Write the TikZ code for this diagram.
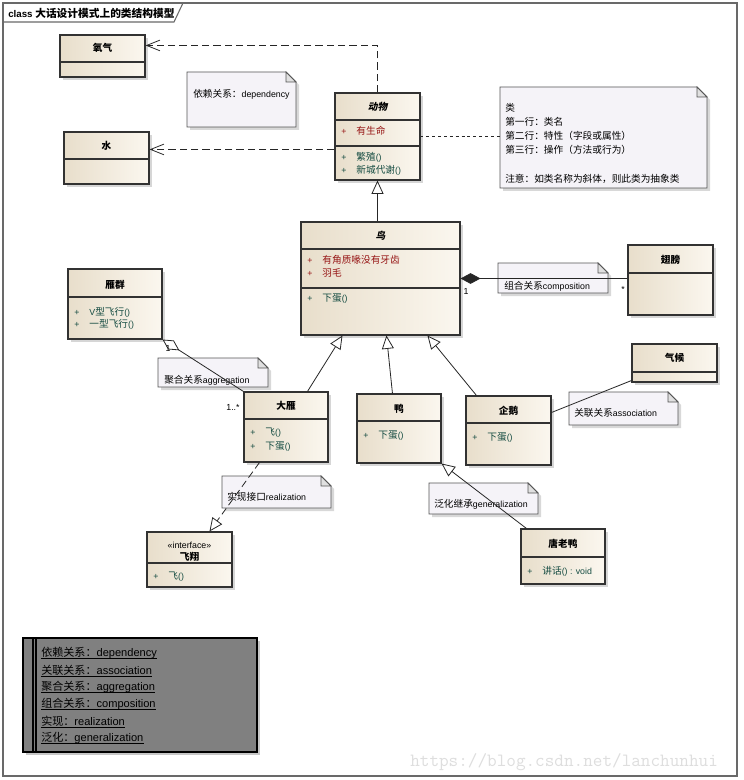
\documentclass[tikz,border=0pt]{standalone}
\usepackage{fontspec}
\setmainfont{Liberation Sans}
\newfontfamily\cjk[Scale=1.1]{Noto Sans CJK SC}
\newfontfamily\cjksl[Scale=1.1,FakeSlant=0.2]{Noto Sans CJK SC}
\newfontfamily\cjkl{Noto Sans CJK SC}
\usetikzlibrary{arrows.meta,shadows,fit,calc}
\newdimen\pxd \pxd=0.75pt
\definecolor{clsL}{RGB}{232,222,203}
\definecolor{clsR}{RGB}{251,247,239}
\definecolor{clsBorder}{RGB}{50,50,50}
\definecolor{noteFill}{RGB}{245,243,248}
\definecolor{noteBorder}{RGB}{85,85,85}
\definecolor{attrC}{RGB}{150,20,20}
\definecolor{opC}{RGB}{20,75,65}
\definecolor{legendFill}{RGB}{128,128,128}
\definecolor{frameC}{RGB}{105,105,105}
\definecolor{wmC}{RGB}{222,222,222}
\newcommand\umlclass[5]{\node[cls, fit={(#2,#3) (#4,#5)}] (#1) {};}
\newcommand\divider[2]{\draw[divl] (#1.west |- 0,#2) -- (#1.east |- 0,#2);}
\newcommand\member[5]{\node[mem, text=#4] (#1) at (#2,#3) {+\hspace{10\pxd}#5};}
\newcommand\legendline[3]{%
  \node[lg] (#1) at (41,#2) {#3};
  \draw[black, line width=0.6pt] ($(#1.base west)+(0,2)$) -- ($(#1.base east)+(0,2)$);}
\newcommand\notebox[5]{%
  \fill[black!30,opacity=0.5] (#2+3,#3+3) -- (#4+3-10,#3+3) -- (#4+3,#3+13) -- (#4+3,#5+3) -- (#2+3,#5+3) -- cycle;
  \filldraw[notest] (#2,#3) -- (#4-10,#3) -- (#4,#3+10) -- (#4,#5) -- (#2,#5) -- cycle;
  \filldraw[notest, fill=black!12] (#4-10,#3) -- (#4-10,#3+10) -- (#4,#3+10) -- cycle;
  \node[fit={(#2,#3) (#4,#5)}, inner sep=0pt] (#1) {};}
\begin{document}
\begin{tikzpicture}[x=0.75pt,y=-0.75pt,
  every node/.style={inner sep=0pt, font=\fontsize{6.6pt}{8pt}\selectfont},
  cls/.style={draw=clsBorder, line width=0.8pt, left color=clsL, right color=clsR,
    drop shadow={shadow xshift=2pt,shadow yshift=-2pt,fill=black!35,opacity=0.45}},
  divl/.style={draw=clsBorder, line width=0.8pt},
  notest/.style={draw=noteBorder, fill=noteFill, line width=0.6pt},
  conn/.style={draw=black!85, line width=0.6pt},
  dep/.style={conn, dash pattern=on 5.5pt off 3pt, -{Straight Barb[length=10pt,width=8pt]}},
  gen/.style={conn, -{Triangle[open,fill=white,length=10pt,width=9pt]}},
  real/.style={gen, dash pattern=on 5.5pt off 3pt},
  comp/.style={conn, {Diamond[length=15pt,width=8pt]}-},
  agg/.style={conn, {Diamond[open,fill=white,length=15pt,width=8pt]}-},
  notelink/.style={conn, dash pattern=on 2.2pt off 2.2pt},
  nm/.style={font=\bfseries\fontsize{6.6pt}{8pt}\selectfont},
  mem/.style={anchor=west},
  ntext/.style={anchor=west},
  lg/.style={anchor=west, text=black, font=\fontsize{8.3pt}{10pt}\selectfont}
]
\useasboundingbox (0,0) rectangle (743,780);
\fill[white] (0,0) rectangle (743,780);
% frame
\draw[frameC, line width=0.8pt] (3,3) rectangle (737,776);
\draw[frameC, line width=0.8pt] (3,22) -- (174,22) -- (183,3);
\node[anchor=west, font=\bfseries\fontsize{7.3pt}{9pt}\selectfont] (title) at (8,13) {class {\cjk\bfseries 大话设计模式上的类结构模型}};

% notes
\notebox{depnote}{187}{72}{296}{127}
\node[ntext] (depnote-t) at (193,94) {{\cjk 依赖关系：}dependency};
\notebox{classnote}{500}{87}{707}{188}
\node[ntext] (cn1) at (505,108) {\cjk 类};
\node[ntext] (cn2) at (505,122) {\cjk 第一行：类名};
\node[ntext] (cn3) at (505,136) {\cjk 第二行：特性（字段或属性）};
\node[ntext] (cn4) at (505,150) {\cjk 第三行：操作（方法或行为）};
\node[ntext] (cn5) at (505,179) {\cjk 注意：如类名称为斜体，则此类为抽象类};
\notebox{compnote}{498}{263}{608}{293}
\node[ntext] (compnote-t) at (504,286) {{\cjk 组合关系}composition};
\notebox{aggnote}{158}{358}{268}{387}
\node[ntext] (aggnote-t) at (164,380) {{\cjk 聚合关系}aggregation};
\notebox{assocnote}{569}{392}{678}{425}
\node[ntext] (assocnote-t) at (574,413) {{\cjk 关联关系}association};
\notebox{realnote}{222}{476}{331}{508}
\node[ntext] (realnote-t) at (227,497) {{\cjk 实现接口}realization};
\notebox{gennote}{429}{483}{538}{514}
\node[ntext] (gennote-t) at (434,504) {{\cjk 泛化继承}generalization};

% classes
\umlclass{yangqi}{60}{35}{145}{77}
\divider{yangqi}{62}
\node[nm] (yangqi-n) at (102.5,48) {\cjk\bfseries 氧气};

\umlclass{shui}{64}{132}{149}{184}
\divider{shui}{159}
\node[nm] (shui-n) at (106.5,146) {\cjk\bfseries 水};

\umlclass{dongwu}{335}{93}{420}{180}
\divider{dongwu}{120}
\divider{dongwu}{146}
\node[nm] (dongwu-n) at (377.5,107) {\cjksl\bfseries 动物};
\member{dongwu-a1}{341}{131}{attrC}{{\cjk 有生命}}
\member{dongwu-o1}{341}{157}{opC}{{\cjk 繁殖}()}
\member{dongwu-o2}{341}{170}{opC}{{\cjk 新城代谢}()}

\umlclass{niao}{301}{222}{460}{335}
\divider{niao}{249}
\divider{niao}{288}
\node[nm] (niao-n) at (380.5,236) {\cjksl\bfseries 鸟};
\member{niao-a1}{307}{260}{attrC}{{\cjk 有角质喙没有牙齿}}
\member{niao-a2}{307}{273}{attrC}{{\cjk 羽毛}}
\member{niao-o1}{307}{299}{opC}{{\cjk 下蛋}()}

\umlclass{chibang}{628}{245}{713}{315}
\divider{chibang}{273}
\node[nm] (chibang-n) at (670.5,260) {\cjk\bfseries 翅膀};

\umlclass{yanqun}{68}{269}{162}{339}
\divider{yanqun}{297}
\node[nm] (yanqun-n) at (115,285) {\cjk\bfseries 雁群};
\member{yanqun-o1}{74}{312}{opC}{V{\cjk 型飞行}()}
\member{yanqun-o2}{74}{324}{opC}{{\cjk 一型飞行}()}

\umlclass{dayan}{244}{392}{328}{462}
\divider{dayan}{419}
\node[nm] (dayan-n) at (286,406) {\cjk\bfseries 大雁};
\member{dayan-o1}{250}{433}{opC}{{\cjk 飞}()}
\member{dayan-o2}{250}{447}{opC}{{\cjk 下蛋}()}

\umlclass{ya}{357}{394}{441}{463}
\divider{ya}{421}
\node[nm] (ya-n) at (399,409) {\cjk\bfseries 鸭};
\member{ya-o1}{363}{436}{opC}{{\cjk 下蛋}()}

\umlclass{qie}{466}{396}{551}{465}
\divider{qie}{423}
\node[nm] (qie-n) at (508.5,411) {\cjk\bfseries 企鹅};
\member{qie-o1}{472}{438}{opC}{{\cjk 下蛋}()}

\umlclass{qihou}{632}{344}{717}{382}
\divider{qihou}{372}
\node[nm] (qihou-n) at (674.5,358) {\cjk\bfseries 气候};

\umlclass{feixiang}{147}{532}{232}{587}
\divider{feixiang}{563}
\node (feixiang-s) at (189.5,545) {«interface»};
\node[nm] (feixiang-n) at (189.5,557) {\cjk\bfseries 飞翔};
\member{feixiang-o1}{153}{577}{opC}{{\cjk 飞}()}

\umlclass{tanglaoya}{521}{529}{605}{584}
\divider{tanglaoya}{557}
\node[nm] (tanglaoya-n) at (563,544) {\cjk\bfseries 唐老鸭};
\member{tanglaoya-o1}{527}{571}{opC}{{\cjk 讲话}() : void}

% connectors
\draw[dep] (dongwu.north) |- ($(yangqi.north east)+(0,11)$);
\draw[dep] ($(dongwu.north west)+(0,57)$) -- ($(shui.north east)+(0,18)$);
\draw[notelink] (dongwu.east) -- (dongwu.east -| classnote.west);
\draw[gen] (niao.north -| dongwu.south) -- (dongwu.south);
\draw[comp] (niao.east) -- (niao.east -| chibang.west);
\draw[agg] (yanqun.south east) -- (dayan.north west);
\draw[gen] ($(dayan.north west)+(64,0)$) -- ($(niao.south west)+(42,0)$);
\draw[gen] ($(ya.north west)+(36,0)$) -- ($(niao.south west)+(86,0)$);
\draw[gen] ($(qie.north west)+(11,0)$) -- ($(niao.south west)+(127,0)$);
\draw[conn] ($(qie.north east)+(0,17)$) -- ($(qihou.south west)+(0,-2)$);
\draw[real] ($(dayan.south west)+(16,0)$) -- ($(feixiang.north west)+(63,0)$);
\draw[gen] ($(tanglaoya.north west)+(6,0)$) -- (ya.south east);

% multiplicities
\node (comp-m1) at (466,291) {1};
\node (comp-m2) at (623,289) {*};
\node (agg-m1) at (168,348) {1};
\node (agg-m2) at (233,407) {1..*};

% legend
\fill[black!22] (26,641) rectangle (260,755);
\node[fit={(23,638) (257,752)}, draw=black, fill=legendFill, line width=0.8pt] (legend) {};
\draw[line width=0.8pt] (legend.north west -| 33,0) -- (legend.south west -| 33,0);
\draw[line width=0.8pt] (legend.north west -| 36,0) -- (legend.south west -| 36,0);
\legendline{lg1}{653}{{\cjkl 依赖关系：}dependency}
\legendline{lg2}{670}{{\cjkl 关联关系：}association}
\legendline{lg3}{687}{{\cjkl 聚合关系：}aggregation}
\legendline{lg4}{704}{{\cjkl 组合关系：}composition}
\legendline{lg5}{721}{{\cjkl 实现：}realization}
\legendline{lg6}{738}{{\cjkl 泛化：}generalization}

% watermark
\node[anchor=west, text=wmC, font=\ttfamily\fontsize{14pt}{14pt}\selectfont] (wm) at (410,762) {https://blog.csdn.net/lanchunhui};
\end{tikzpicture}
\end{document}
